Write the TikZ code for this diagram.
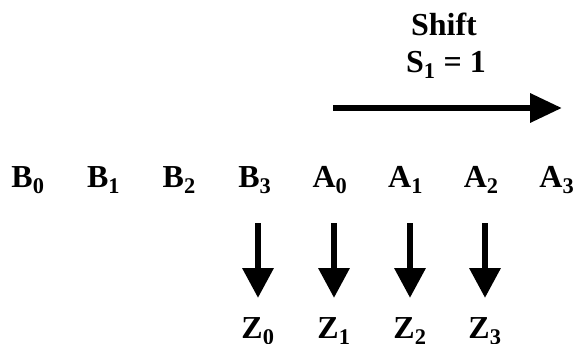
\documentclass[tikz,border=0pt]{standalone}
\usepackage{fontspec}
\setmainfont{Liberation Serif}
\usetikzlibrary{arrows.meta}

\tikzset{
  every picture/.style={line width=0.75pt},
  lbl/.style={font=\fontsize{32}{37}\selectfont\bfseries, inner sep=0pt, anchor=base},
  fatarrow/.style={line width=6.5pt, -{Triangle[length=30pt,width=30pt]}},
}

\begin{document}
\begin{tikzpicture}[x=1pt,y=-1pt]
  \useasboundingbox (0,0) rectangle (575,343);

  % --- the shift ---
  \node[lbl] (shift) at (444,35) {Shift};
  \node[lbl] (shiftval) at (446,72) {S\textsubscript{1} = 1};
  \coordinate (shiftfrom) at (333,108);
  \coordinate (shiftto) at (562,108);
  \draw[fatarrow, -{Triangle[length=32pt,width=28pt]}] (shiftfrom) -- (shiftto);

  % --- the two registers ---
  \foreach \i in {0,...,3} {
    \node[lbl] (b\i) at (28+75.6*\i,187) {B\textsubscript{\i}};
    \node[lbl] (a\i) at (330+75.6*\i,187) {A\textsubscript{\i}};
  }

  % --- the result ---
  \foreach \src/\i/\x in {b3/0/258,a0/1/334,a1/2/410,a2/3/485} {
    \node[lbl] (z\i) at (\x,338) {Z\textsubscript{\i}};
    \draw[fatarrow, shorten <=36pt, shorten >=40pt] (\src.base -| z\i) -- (z\i.base);
  }
\end{tikzpicture}
\end{document}
